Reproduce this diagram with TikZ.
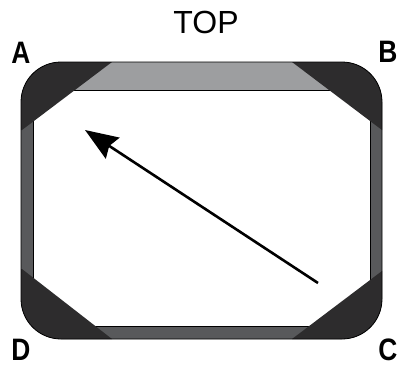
\documentclass[tikz,border=0pt]{standalone}
\usepackage{fontspec}
\setsansfont{Liberation Sans}
\usetikzlibrary{arrows.meta}
\definecolor{cornerdark}{HTML}{2D2C2D}
\definecolor{sidegray}{HTML}{58595B}
\definecolor{topgray}{HTML}{9D9EA0}
\tikzset{cornerlabel/.style={font=\sffamily\bfseries\fontsize{31}{31}\selectfont, xscale=0.85, inner sep=0pt}}
\tikzset{trayedge/.style={line width=0.8pt, rounded corners=40pt}}

\begin{document}
\begin{tikzpicture}[x=1pt,y=-1pt]
        \useasboundingbox (0,0) rectangle (402,367);
        \fill[sidegray, rounded corners=40pt] (21,62) rectangle (382,339);
        \fill[topgray] (60,62) rectangle (340,90);
        \draw[fill=white, line width=0.8pt] (33,90) rectangle (370,326);

        % the four dark corners
        \begin{scope}
        \clip[rounded corners=40pt] (21,62) rectangle (382,339);
        \fill[cornerdark] (112,62) -- (22,130) -- (10,130) -- (10,50) -- (112,50) -- cycle;
        \fill[cornerdark] (292,62) -- (382,130) -- (395,130) -- (395,50) -- (292,50) -- cycle;
        \fill[cornerdark] (22,269) -- (112,339) -- (112,350) -- (10,350) -- (10,269) -- cycle;
        \fill[cornerdark] (382,271) -- (292,339) -- (292,350) -- (395,350) -- (395,271) -- cycle;
        \end{scope}
        \draw[trayedge] (21,62) rectangle (382,339);

        \coordinate (tail) at (318,283);
        \coordinate (tip) at (85,130);
        \draw[line width=2.6pt, -{Stealth[length=33pt, width=25pt, inset=4pt]}] (tail) -- (tip);

        \node[font=\sffamily\fontsize{32}{32}\selectfont, inner sep=0pt] (top) at (206,22) {TOP};
        \node[cornerlabel] (labelA) at (21,53) {A};
        \node[cornerlabel] (labelB) at (388,52) {B};
        \node[cornerlabel] (labelC) at (388,350) {C};
        \node[cornerlabel] (labelD) at (21,350) {D};
\end{tikzpicture}
\end{document}
